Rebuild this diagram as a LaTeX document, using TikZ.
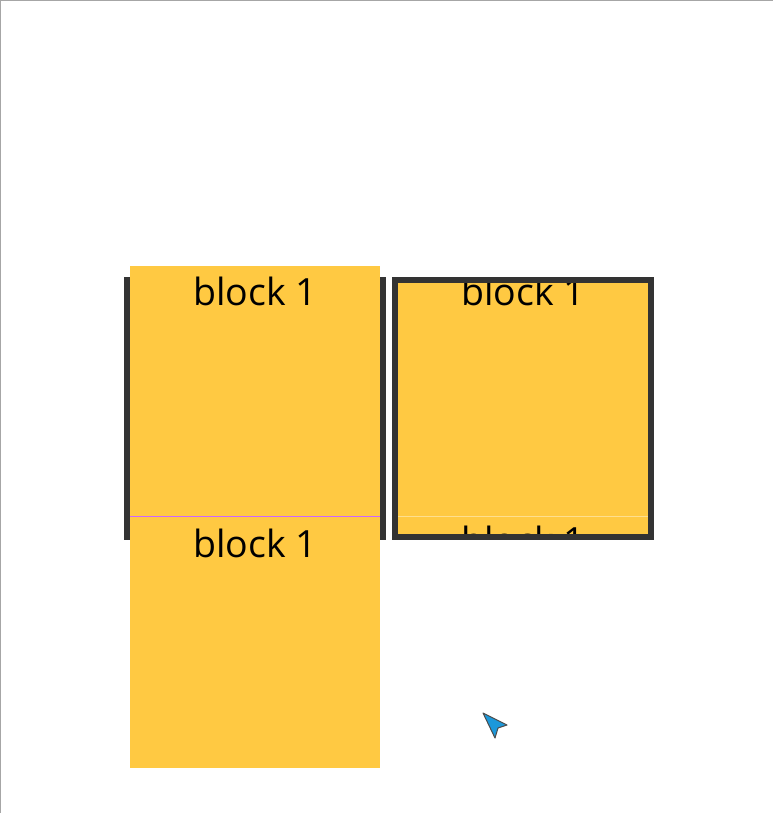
\documentclass[tikz,border=0pt]{standalone}
\usepackage{fontspec}
\setmainfont{Open Sans}
\usetikzlibrary{positioning}
\definecolor{blockyellow}{HTML}{FFC942}
\definecolor{holderline}{HTML}{333333}
\definecolor{seamline}{HTML}{CC66FF}
\definecolor{cursorblue}{HTML}{1C98DA}

\begin{document}
\begin{tikzpicture}[x=1pt,y=-1pt,
  block/.style={fill=blockyellow, minimum width=250pt, minimum height=250pt,
                inner sep=0pt, outer sep=0pt},
  blocktext/.style={font=\fontsize{37.5}{37.5}\selectfont, anchor=base, inner sep=0pt},
  holder/.style={draw=holderline, line width=6pt, minimum width=256pt,
                 minimum height=257pt, inner sep=0pt, outer sep=0pt}]
\useasboundingbox (0,0) rectangle (773,813);
\draw[black!35] (0.5,813) -- (0.5,0.5) -- (773,0.5);

% left holder, content overflows
\node[holder] (h1) at (255,408.5) {};
\node[block] (b1) at (255,391) {};
\node[block, minimum height=252pt, below=0pt of b1] (b2) {};
\node[blocktext] (t1) at ([yshift=-39pt]b1.north) {block 1};
\node[blocktext] (t2) at ([yshift=-41pt]b2.north) {block 1};
\draw[seamline] (b1.south west) -- (b1.south east);

% right holder, content clipped
\node[holder] (h2) at (523,408.5) {};
\begin{scope}
  \clip (398,283) rectangle (648,533);
  \node[block] (b3) at (523,391) {};
  \node[block, below=0pt of b3] (b4) {};
  \node[blocktext] (t3) at ([yshift=-39pt]b3.north) {block 1};
  \node[blocktext] (t4) at ([yshift=-38pt]b4.north) {block 1};
  \draw[white!40!blockyellow] (b3.south west) -- (b3.south east);
\end{scope}

% mouse pointer
\filldraw[fill=cursorblue, draw=black!70, line width=1pt, line join=round]
  (483,713) -- (507,725) -- (498,728) -- (495,738) -- cycle;
\end{tikzpicture}
\end{document}
